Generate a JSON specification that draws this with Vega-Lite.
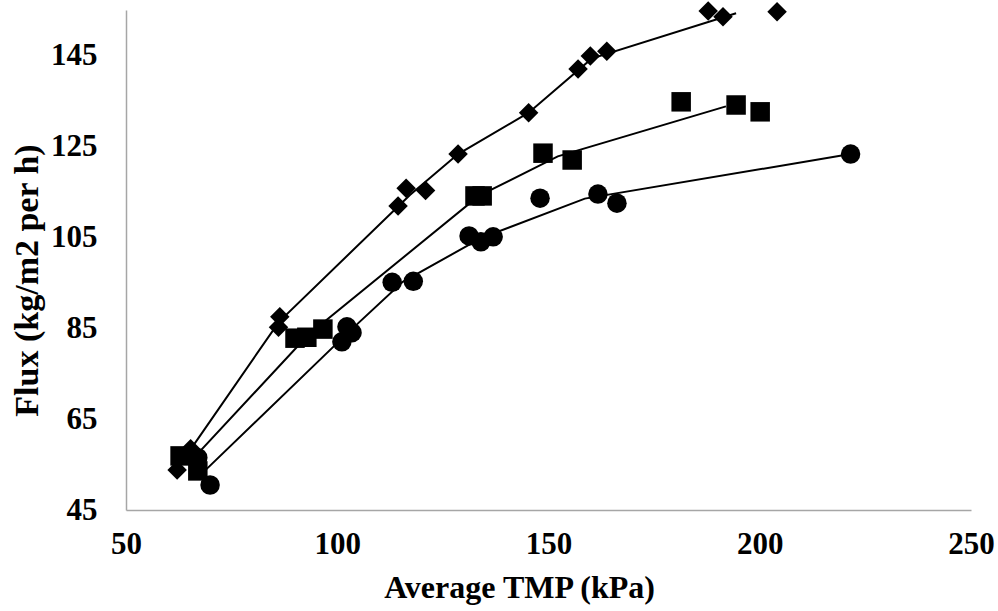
{
  "$schema": "https://vega.github.io/schema/vega-lite/v6.json",
  "width": 845,
  "height": 500,
  "autosize": "none",
  "padding": {"left": 126, "top": 10, "right": 27, "bottom": 101},
  "background": "white",
  "config": {
    "view": {"stroke": null},
    "font": "Liberation Serif",
    "axis": {
      "grid": false,
      "ticks": false,
      "domainColor": "#a6a6a6",
      "domainWidth": 1.5,
      "labelFont": "Liberation Serif",
      "labelFontWeight": "bold",
      "labelFontSize": 31,
      "labelColor": "black",
      "titleFont": "Liberation Serif",
      "titleFontWeight": "bold",
      "titleColor": "black"
    }
  },
  "datasets": {
    "points": [
      {"series": "D", "tmp": 62.1, "flux": 53.8},
      {"series": "D", "tmp": 65.3, "flux": 58.5},
      {"series": "D", "tmp": 86.4, "flux": 87.5},
      {"series": "D", "tmp": 86.1, "flux": 85.2},
      {"series": "D", "tmp": 114.4, "flux": 111.9},
      {"series": "D", "tmp": 116.3, "flux": 115.8},
      {"series": "D", "tmp": 120.9, "flux": 115.3},
      {"series": "D", "tmp": 128.6, "flux": 123.3},
      {"series": "D", "tmp": 145.3, "flux": 132.4},
      {"series": "D", "tmp": 157.0, "flux": 142.0},
      {"series": "D", "tmp": 159.9, "flux": 144.9},
      {"series": "D", "tmp": 163.8, "flux": 145.9},
      {"series": "D", "tmp": 187.8, "flux": 154.8},
      {"series": "D", "tmp": 191.3, "flux": 153.5},
      {"series": "D", "tmp": 204.1, "flux": 154.6},
      {"series": "S", "tmp": 62.8, "flux": 56.9},
      {"series": "S", "tmp": 67.0, "flux": 53.6},
      {"series": "S", "tmp": 90.0, "flux": 82.8},
      {"series": "S", "tmp": 92.8, "flux": 83.0},
      {"series": "S", "tmp": 96.6, "flux": 84.8},
      {"series": "S", "tmp": 132.6, "flux": 114.1},
      {"series": "S", "tmp": 134.3, "flux": 114.1},
      {"series": "S", "tmp": 148.7, "flux": 123.5},
      {"series": "S", "tmp": 155.6, "flux": 122.0},
      {"series": "S", "tmp": 181.4, "flux": 134.8},
      {"series": "S", "tmp": 194.4, "flux": 134.1},
      {"series": "S", "tmp": 200.1, "flux": 132.6},
      {"series": "C", "tmp": 67.0, "flux": 56.5},
      {"series": "C", "tmp": 69.9, "flux": 50.5},
      {"series": "C", "tmp": 101.1, "flux": 82.0},
      {"series": "C", "tmp": 102.3, "flux": 85.3},
      {"series": "C", "tmp": 103.5, "flux": 84.0},
      {"series": "C", "tmp": 113.0, "flux": 95.1},
      {"series": "C", "tmp": 118.0, "flux": 95.3},
      {"series": "C", "tmp": 131.2, "flux": 105.3},
      {"series": "C", "tmp": 134.0, "flux": 104.0},
      {"series": "C", "tmp": 136.9, "flux": 105.1},
      {"series": "C", "tmp": 148.0, "flux": 113.6},
      {"series": "C", "tmp": 161.7, "flux": 114.5},
      {"series": "C", "tmp": 166.2, "flux": 112.5},
      {"series": "C", "tmp": 221.5, "flux": 123.3}
    ],
    "lines": [
      {"series": "D", "tmp": 63.7, "flux": 56.2},
      {"series": "D", "tmp": 86.2, "flux": 86.4},
      {"series": "D", "tmp": 117.2, "flux": 114.3},
      {"series": "D", "tmp": 128.6, "flux": 123.3},
      {"series": "D", "tmp": 145.3, "flux": 132.4},
      {"series": "D", "tmp": 160.2, "flux": 144.3},
      {"series": "D", "tmp": 194.4, "flux": 154.3},
      {"series": "S", "tmp": 64.9, "flux": 55.3},
      {"series": "S", "tmp": 93.1, "flux": 83.5},
      {"series": "S", "tmp": 133.5, "flux": 114.1},
      {"series": "S", "tmp": 152.2, "flux": 122.8},
      {"series": "S", "tmp": 192.0, "flux": 133.8},
      {"series": "C", "tmp": 68.5, "flux": 53.5},
      {"series": "C", "tmp": 102.3, "flux": 83.8},
      {"series": "C", "tmp": 115.5, "flux": 95.2},
      {"series": "C", "tmp": 134.0, "flux": 104.8},
      {"series": "C", "tmp": 158.6, "flux": 113.5},
      {"series": "C", "tmp": 221.5, "flux": 123.3}
    ]
  },
  "layer": [
    {
      "data": {"name": "lines"},
      "mark": {"type": "line", "color": "black", "strokeWidth": 2},
      "encoding": {
        "x": {"field": "tmp", "type": "quantitative", "scale": {"domain": [50, 250], "nice": false, "zero": false},
              "axis": {"title": "Average TMP (kPa)", "values": [50, 100, 150, 200, 250], "labelPadding": 19, "titlePadding": 13, "titleFontSize": 32, "titleX": 393, "labelFlush": false}},
        "y": {"field": "flux", "type": "quantitative", "scale": {"domain": [45, 155], "nice": false, "zero": false},
              "axis": {"title": "Flux (kg/m2 per h)", "values": [45, 65, 85, 105, 125, 145], "labelPadding": 29, "titlePadding": 6, "titleFontSize": 34, "titleY": 270, "labelFlush": false}},
        "detail": {"field": "series"}
      }
    },
    {
      "data": {"name": "points"},
      "mark": {"type": "point", "filled": true, "color": "black", "opacity": 1, "size": 380},
      "encoding": {
        "x": {"field": "tmp", "type": "quantitative"},
        "y": {"field": "flux", "type": "quantitative"},
        "shape": {"field": "series", "type": "nominal",
                  "scale": {"domain": ["D", "S", "C"], "range": ["diamond", "square", "circle"]},
                  "legend": null}
      }
    }
  ]
}
